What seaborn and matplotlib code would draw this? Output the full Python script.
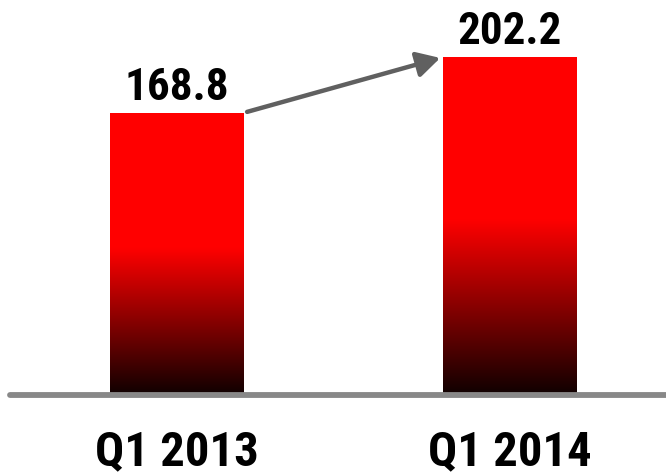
import numpy as np
import pandas as pd
import matplotlib
matplotlib.use("Agg")
import matplotlib.pyplot as plt
import seaborn as sns
from matplotlib.colors import LinearSegmentedColormap

categories = ["Q1 2013", "Q1 2014"]
values = [168.8, 202.2]
value_labels = ["168.8", "202.2"]

sns.set_theme(style="white")
plt.rcParams["font.family"] = ["Roboto Condensed", "Liberation Sans", "DejaVu Sans"]

W, H, DPI = 6.66, 4.72, 100
fig = plt.figure(figsize=(W, H), dpi=DPI)
base_px = 395.0
ax = fig.add_axes([0, (472 - base_px) / 472, 1, base_px / 472])

df = pd.DataFrame({"cat": categories, "val": values})
sns.barplot(data=df, x="cat", y="val", color="#ff0000", width=0.4,
            saturation=1, ax=ax, edgecolor="none", linewidth=0)

px_per_unit_x = 333.0
xlim = (-176.5 / px_per_unit_x, (666 - 176.5) / px_per_unit_x)
px_per_unit_y = 282.0 / 168.8
ylim = (0, base_px / px_per_unit_y)

# gradient fill: black at bottom -> red at ~48% of bar height -> red to top
cmap = LinearSegmentedColormap.from_list(
    "rb", [(0.0, (0.06, 0.0, 0.0)), (0.52, (1, 0, 0)), (1.0, (1, 0, 0))])
grad = np.linspace(1, 0, 256).reshape(-1, 1)
for patch in ax.patches:
    x0, y0 = patch.get_x(), patch.get_y()
    w, h = patch.get_width(), patch.get_height()
    im = ax.imshow(grad, cmap=cmap, vmin=0, vmax=1, aspect="auto",
                   extent=[x0, x0 + w, y0, y0 + h], zorder=patch.get_zorder() + 0.1,
                   interpolation="bilinear")
    im.set_clip_path(patch)
ax.set_xlim(*xlim)
ax.set_ylim(*ylim)

# baseline
ax.axhline(0, xmin=10 / 666, xmax=1, color="#888888", lw=4.2, zorder=5, clip_on=False)

# value labels
for i, (v, lab) in enumerate(zip(values, value_labels)):
    ax.annotate(lab, xy=(i, v), xytext=(0, 9.5), textcoords="offset points",
                ha="center", va="baseline", fontsize=32.5, fontweight="bold",
                color="black")

# arrow between bars
bw = 0.2
ax.annotate("", xy=(1 - bw, values[1]), xytext=(bw, values[0]),
            arrowprops=dict(arrowstyle="-|>,head_length=1.0,head_width=0.55",
                            color="#606060", lw=3.2, shrinkA=3, shrinkB=2,
                            mutation_scale=14), zorder=6)

ax.set_xlabel("")
ax.set_ylabel("")
ax.set_yticks([])
ax.tick_params(axis="x", length=0, pad=25, labelsize=35)
for t in ax.get_xticklabels():
    t.set_fontweight("bold")
    t.set_color("black")
sns.despine(ax=ax, left=True, bottom=True)
ax.set_facecolor("white")
fig.patch.set_facecolor("white")

fig.savefig("out.png", dpi=DPI, facecolor="white")
